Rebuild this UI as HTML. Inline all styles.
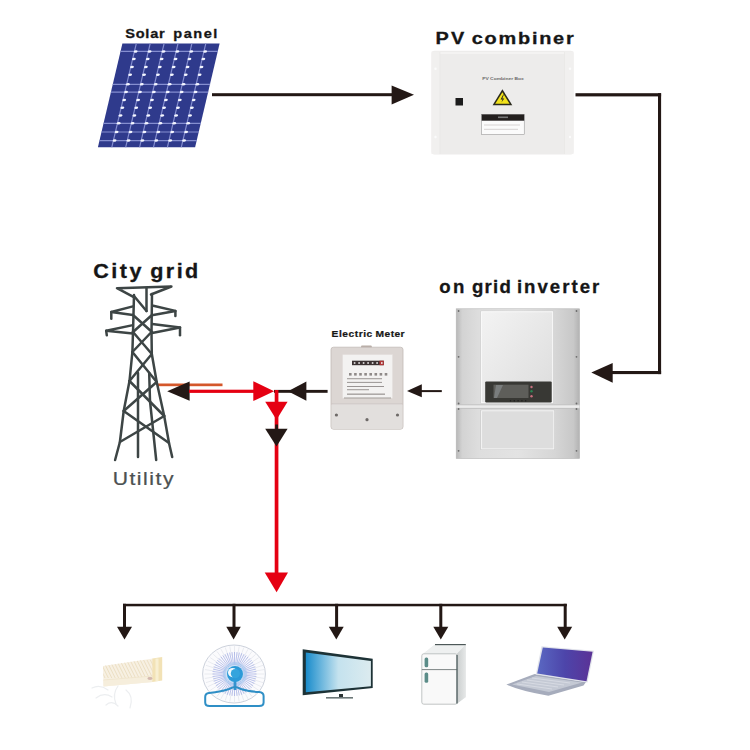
<!DOCTYPE html>
<html><head><meta charset="utf-8">
<style>
html,body{margin:0;padding:0;background:#fff;}
body{width:750px;height:750px;overflow:hidden;position:relative;font-family:"Liberation Sans",sans-serif;}
svg{position:absolute;left:0;top:0;display:block;}
.t{font-family:"Liberation Sans",sans-serif;font-weight:bold;fill:#1b1b1b;}
</style></head>
<body>
<svg width="750" height="750" viewBox="0 0 750 750">
<defs>
  <linearGradient id="tvg" x1="0" y1="0" x2="1" y2="0">
    <stop offset="0" stop-color="#1a8ccb"/>
    <stop offset="0.25" stop-color="#6fb8de"/>
    <stop offset="0.5" stop-color="#c4e2ee"/>
    <stop offset="1" stop-color="#dcebef"/>
  </linearGradient>
  <linearGradient id="lpg" x1="0" y1="0" x2="1" y2="0">
    <stop offset="0" stop-color="#5a68c2"/>
    <stop offset="0.5" stop-color="#4d45aa"/>
    <stop offset="1" stop-color="#5b3296"/>
  </linearGradient>
  <linearGradient id="invg" x1="0" y1="0" x2="1" y2="0">
    <stop offset="0" stop-color="#b8b8b8"/>
    <stop offset="0.05" stop-color="#d3d3d3"/>
    <stop offset="0.19" stop-color="#dedede"/>
    <stop offset="0.5" stop-color="#e3e3e3"/>
    <stop offset="0.8" stop-color="#d6d6d6"/>
    <stop offset="0.95" stop-color="#c8c8c8"/>
    <stop offset="1" stop-color="#b2b2b2"/>
  </linearGradient>
  <linearGradient id="invp" x1="0" y1="0" x2="1" y2="1">
    <stop offset="0" stop-color="#f3f3f3"/>
    <stop offset="1" stop-color="#dcdcdc"/>
  </linearGradient>
  <linearGradient id="frs" x1="0" y1="0" x2="1" y2="0">
    <stop offset="0" stop-color="#c9cdcd"/>
    <stop offset="1" stop-color="#e6e8e8"/>
  </linearGradient>
</defs>

<!-- ===== TEXT LABELS ===== -->
<text transform="translate(125.20,37.6) scale(1.12,1)" font-size="13" font-weight="bold" font-family="Liberation Sans" fill="#161616" stroke="#161616" stroke-width="0.3" textLength="35.28" lengthAdjust="spacing">Solar</text>
<text transform="translate(173.34,37.6) scale(1.12,1)" font-size="13" font-weight="bold" font-family="Liberation Sans" fill="#161616" stroke="#161616" stroke-width="0.3" textLength="39.32" lengthAdjust="spacing">panel</text>
<text transform="translate(435.48,44.2) scale(1.2,1)" font-size="16.6" font-weight="bold" font-family="Liberation Sans" fill="#161616" stroke="#161616" stroke-width="0.3" textLength="23.91" lengthAdjust="spacing">PV</text>
<text transform="translate(471.78,44.2) scale(1.2,1)" font-size="16.6" font-weight="bold" font-family="Liberation Sans" fill="#161616" stroke="#161616" stroke-width="0.3" textLength="84.91" lengthAdjust="spacing">combiner</text>
<text transform="translate(439.26,292.7) scale(1.0,1)" font-size="18.6" font-weight="bold" font-family="Liberation Sans" fill="#161616" stroke="#161616" stroke-width="0.3" textLength="25.06" lengthAdjust="spacing">on</text>
<text transform="translate(471.98,292.7) scale(1.0,1)" font-size="18.6" font-weight="bold" font-family="Liberation Sans" fill="#161616" stroke="#161616" stroke-width="0.3" textLength="38.84" lengthAdjust="spacing">grid</text>
<text transform="translate(516.90,292.7) scale(1.0,1)" font-size="18.6" font-weight="bold" font-family="Liberation Sans" fill="#161616" stroke="#161616" stroke-width="0.3" textLength="82.40" lengthAdjust="spacing">inverter</text>
<text transform="translate(93.14,278) scale(1.1,1)" font-size="19.6" font-weight="bold" font-family="Liberation Sans" fill="#161616" stroke="#161616" stroke-width="0.3" textLength="44.03" lengthAdjust="spacing">City</text>
<text transform="translate(150.22,278) scale(1.1,1)" font-size="19.6" font-weight="bold" font-family="Liberation Sans" fill="#161616" stroke="#161616" stroke-width="0.3" textLength="43.65" lengthAdjust="spacing">grid</text>
<text transform="translate(331.59,336.5) scale(1.18,1)" font-size="8.7" font-weight="bold" font-family="Liberation Sans" fill="#161616" stroke="#161616" stroke-width="0.2" textLength="34.42" lengthAdjust="spacing">Electric</text>
<text transform="translate(375.59,336.5) scale(1.18,1)" font-size="8.7" font-weight="bold" font-family="Liberation Sans" fill="#161616" stroke="#161616" stroke-width="0.2" textLength="24.61" lengthAdjust="spacing">Meter</text>
<text transform="translate(112.64,485.3) scale(1.2,1)" font-size="17.6" font-family="Liberation Sans" fill="#4c5151" stroke="#4c5151" stroke-width="0.25" textLength="50.77" lengthAdjust="spacing">Utility</text>

<!-- ===== SOLAR PANEL ===== -->
<g transform="translate(122.4,43.6) skewX(-13.3)">
  <rect x="0" y="0" width="97.2" height="103.6" fill="#2f3a8c"/>
  <g stroke="#858ed0" stroke-width="1.2">
    <line x1="13.9" y1="0" x2="13.9" y2="103.6"/>
    <line x1="27.8" y1="0" x2="27.8" y2="103.6"/>
    <line x1="41.7" y1="0" x2="41.7" y2="103.6"/>
    <line x1="55.6" y1="0" x2="55.6" y2="103.6"/>
    <line x1="69.5" y1="0" x2="69.5" y2="103.6"/>
    <line x1="83.4" y1="0" x2="83.4" y2="103.6"/>
    <line x1="0" y1="7.8" x2="97.4" y2="7.8"/>
    <line x1="0" y1="40.7" x2="97.4" y2="40.7"/>
    <line x1="0" y1="48.5" x2="97.4" y2="48.5"/>
    <line x1="0" y1="79.7" x2="97.4" y2="79.7"/>
    <line x1="0" y1="88.4" x2="97.4" y2="88.4"/>
    <line x1="0" y1="97" x2="97.4" y2="97"/>
  </g>
  <g fill="#f4f6ff"><ellipse cx="15.1" cy="7.8" rx="1.9" ry="1.25"/><ellipse cx="29.0" cy="7.8" rx="1.9" ry="1.25"/><ellipse cx="42.900000000000006" cy="7.8" rx="1.9" ry="1.25"/><ellipse cx="56.800000000000004" cy="7.8" rx="1.9" ry="1.25"/><ellipse cx="70.7" cy="7.8" rx="1.9" ry="1.25"/><ellipse cx="84.60000000000001" cy="7.8" rx="1.9" ry="1.25"/><ellipse cx="15.1" cy="15.5" rx="1.9" ry="1.25"/><ellipse cx="29.0" cy="15.5" rx="1.9" ry="1.25"/><ellipse cx="42.900000000000006" cy="15.5" rx="1.9" ry="1.25"/><ellipse cx="56.800000000000004" cy="15.5" rx="1.9" ry="1.25"/><ellipse cx="70.7" cy="15.5" rx="1.9" ry="1.25"/><ellipse cx="84.60000000000001" cy="15.5" rx="1.9" ry="1.25"/><ellipse cx="15.1" cy="23.4" rx="1.9" ry="1.25"/><ellipse cx="29.0" cy="23.4" rx="1.9" ry="1.25"/><ellipse cx="42.900000000000006" cy="23.4" rx="1.9" ry="1.25"/><ellipse cx="56.800000000000004" cy="23.4" rx="1.9" ry="1.25"/><ellipse cx="70.7" cy="23.4" rx="1.9" ry="1.25"/><ellipse cx="84.60000000000001" cy="23.4" rx="1.9" ry="1.25"/><ellipse cx="15.1" cy="31.2" rx="1.9" ry="1.25"/><ellipse cx="29.0" cy="31.2" rx="1.9" ry="1.25"/><ellipse cx="42.900000000000006" cy="31.2" rx="1.9" ry="1.25"/><ellipse cx="56.800000000000004" cy="31.2" rx="1.9" ry="1.25"/><ellipse cx="70.7" cy="31.2" rx="1.9" ry="1.25"/><ellipse cx="84.60000000000001" cy="31.2" rx="1.9" ry="1.25"/><ellipse cx="15.1" cy="40.7" rx="1.9" ry="1.25"/><ellipse cx="29.0" cy="40.7" rx="1.9" ry="1.25"/><ellipse cx="42.900000000000006" cy="40.7" rx="1.9" ry="1.25"/><ellipse cx="56.800000000000004" cy="40.7" rx="1.9" ry="1.25"/><ellipse cx="70.7" cy="40.7" rx="1.9" ry="1.25"/><ellipse cx="84.60000000000001" cy="40.7" rx="1.9" ry="1.25"/><ellipse cx="15.1" cy="48.5" rx="1.9" ry="1.25"/><ellipse cx="29.0" cy="48.5" rx="1.9" ry="1.25"/><ellipse cx="42.900000000000006" cy="48.5" rx="1.9" ry="1.25"/><ellipse cx="56.800000000000004" cy="48.5" rx="1.9" ry="1.25"/><ellipse cx="70.7" cy="48.5" rx="1.9" ry="1.25"/><ellipse cx="84.60000000000001" cy="48.5" rx="1.9" ry="1.25"/><ellipse cx="15.1" cy="56.3" rx="1.9" ry="1.25"/><ellipse cx="29.0" cy="56.3" rx="1.9" ry="1.25"/><ellipse cx="42.900000000000006" cy="56.3" rx="1.9" ry="1.25"/><ellipse cx="56.800000000000004" cy="56.3" rx="1.9" ry="1.25"/><ellipse cx="70.7" cy="56.3" rx="1.9" ry="1.25"/><ellipse cx="84.60000000000001" cy="56.3" rx="1.9" ry="1.25"/><ellipse cx="15.1" cy="64.1" rx="1.9" ry="1.25"/><ellipse cx="29.0" cy="64.1" rx="1.9" ry="1.25"/><ellipse cx="42.900000000000006" cy="64.1" rx="1.9" ry="1.25"/><ellipse cx="56.800000000000004" cy="64.1" rx="1.9" ry="1.25"/><ellipse cx="70.7" cy="64.1" rx="1.9" ry="1.25"/><ellipse cx="84.60000000000001" cy="64.1" rx="1.9" ry="1.25"/><ellipse cx="15.1" cy="71.9" rx="1.9" ry="1.25"/><ellipse cx="29.0" cy="71.9" rx="1.9" ry="1.25"/><ellipse cx="42.900000000000006" cy="71.9" rx="1.9" ry="1.25"/><ellipse cx="56.800000000000004" cy="71.9" rx="1.9" ry="1.25"/><ellipse cx="70.7" cy="71.9" rx="1.9" ry="1.25"/><ellipse cx="84.60000000000001" cy="71.9" rx="1.9" ry="1.25"/><ellipse cx="15.1" cy="79.7" rx="1.9" ry="1.25"/><ellipse cx="29.0" cy="79.7" rx="1.9" ry="1.25"/><ellipse cx="42.900000000000006" cy="79.7" rx="1.9" ry="1.25"/><ellipse cx="56.800000000000004" cy="79.7" rx="1.9" ry="1.25"/><ellipse cx="70.7" cy="79.7" rx="1.9" ry="1.25"/><ellipse cx="84.60000000000001" cy="79.7" rx="1.9" ry="1.25"/><ellipse cx="15.1" cy="88.4" rx="1.9" ry="1.25"/><ellipse cx="29.0" cy="88.4" rx="1.9" ry="1.25"/><ellipse cx="42.900000000000006" cy="88.4" rx="1.9" ry="1.25"/><ellipse cx="56.800000000000004" cy="88.4" rx="1.9" ry="1.25"/><ellipse cx="70.7" cy="88.4" rx="1.9" ry="1.25"/><ellipse cx="84.60000000000001" cy="88.4" rx="1.9" ry="1.25"/><ellipse cx="15.1" cy="97" rx="1.9" ry="1.25"/><ellipse cx="29.0" cy="97" rx="1.9" ry="1.25"/><ellipse cx="42.900000000000006" cy="97" rx="1.9" ry="1.25"/><ellipse cx="56.800000000000004" cy="97" rx="1.9" ry="1.25"/><ellipse cx="70.7" cy="97" rx="1.9" ry="1.25"/><ellipse cx="84.60000000000001" cy="97" rx="1.9" ry="1.25"/></g>
</g>

<!-- ===== PV COMBINER BOX ===== -->
<rect x="431.5" y="50.7" width="142.1" height="103.7" rx="3" fill="#edeceb"/>
<rect x="433" y="52" width="139" height="2" fill="#f4f3f2"/>
<rect x="431.5" y="51.5" width="8.5" height="102.5" fill="#f1f0ef"/>
<rect x="564.5" y="51.5" width="9" height="102.5" fill="#f1f0ef"/>
<line x1="440" y1="52" x2="440" y2="154" stroke="#e6e5e3" stroke-width="0.6"/>
<line x1="564.5" y1="52" x2="564.5" y2="154" stroke="#e6e5e3" stroke-width="0.6"/>
<g fill="#fbfbfb"><circle cx="435.5" cy="68.8" r="1.2"/><circle cx="570" cy="68.8" r="1.2"/><circle cx="435.5" cy="137" r="1.2"/><circle cx="570" cy="137" r="1.2"/></g>
<rect x="455.5" y="98" width="7.5" height="7.5" fill="#1c1c1c"/>
<text x="503" y="79.6" font-size="4.3" font-weight="bold" font-family="Liberation Sans" fill="#6a6a6a" textLength="41.6" lengthAdjust="spacingAndGlyphs" text-anchor="middle">PV Combiner Box</text>
<polygon points="502.4,89.3 512.3,105.2 492.6,105.2" fill="#2b2a1c"/>
<polygon points="502.4,92.2 509.6,103.8 495.2,103.8" fill="#f2e21a"/>
<polygon points="503.2,94.5 500.6,99.5 502.6,99.4 501.4,102.6 504.3,98.4 502.3,98.5 503.9,94.5" fill="#222"/>
<rect x="481.7" y="114.4" width="42.5" height="20" fill="#fbfbfb" stroke="#8a8a8a" stroke-width="0.5"/>
<rect x="481.7" y="114.4" width="42.5" height="6.3" fill="#231f1e"/>
<rect x="498" y="116.5" width="10" height="1.6" fill="#777"/>
<g stroke="#b0a8a8" stroke-width="0.5"><line x1="484" y1="125" x2="520" y2="125"/><line x1="484" y1="129.3" x2="518" y2="129.3"/></g>

<!-- ===== INVERTER ===== -->
<rect x="456.2" y="308.8" width="123.4" height="149.7" fill="url(#invg)" stroke="#b5b5b5" stroke-width="0.6"/>
<rect x="480.8" y="311" width="72.7" height="92.5" fill="url(#invp)" stroke="#c9c9c9" stroke-width="0.6"/>
<rect x="481.6" y="311.8" width="71.1" height="90.9" fill="none" stroke="#fbfbfb" stroke-width="0.9"/>
<rect x="456.2" y="404.6" width="123.4" height="4" fill="#ececec"/>
<line x1="456.2" y1="404.8" x2="579.6" y2="404.8" stroke="#b3b3b3" stroke-width="0.7"/>
<line x1="456.2" y1="408.4" x2="579.6" y2="408.4" stroke="#b3b3b3" stroke-width="0.7"/>
<rect x="480.8" y="410" width="73.8" height="39.7" fill="#dddddd" stroke="#c6c6c6" stroke-width="0.6"/>
<rect x="481.6" y="410.8" width="72.2" height="38.1" fill="none" stroke="#f6f6f6" stroke-width="0.9"/>
<rect x="485.2" y="381.4" width="66.5" height="21" rx="1.2" fill="#383834"/>
<rect x="493.5" y="384.7" width="35" height="13.3" fill="#5e5e5a"/>
<polygon points="496,385 503,385 497,398 494,398" fill="#7a7d7d"/>
<g><circle cx="531.5" cy="387" r="1.2" fill="#c8707f"/><circle cx="531.5" cy="391.3" r="1.2" fill="#2b8553"/><circle cx="531.5" cy="396.2" r="1.2" fill="#c8707f"/></g>
<g fill="#1d1d1d"><circle cx="510.5" cy="400.8" r="0.7"/><circle cx="514.3" cy="400.8" r="0.7"/><circle cx="518.1" cy="400.8" r="0.7"/><circle cx="521.9" cy="400.8" r="0.7"/><circle cx="525.7" cy="400.8" r="0.7"/></g>
<g fill="#6b6b6b"><circle cx="458.6" cy="311" r="0.9"/><circle cx="576.5" cy="311" r="0.9"/><circle cx="458.6" cy="356.8" r="0.9"/><circle cx="576.5" cy="356.8" r="0.9"/><circle cx="458.6" cy="403.5" r="0.9"/><circle cx="576.5" cy="403.5" r="0.9"/><circle cx="458.6" cy="409" r="0.9"/><circle cx="576.5" cy="409" r="0.9"/><circle cx="458.6" cy="450.8" r="0.9"/><circle cx="576.5" cy="450.8" r="0.9"/></g>

<!-- ===== ELECTRIC METER ===== -->
<rect x="361" y="345.4" width="10.8" height="3" rx="1" fill="#b7aba4"/>
<rect x="331" y="347.2" width="72" height="82" rx="2.5" fill="#dcd6d3" stroke="#c2bab6" stroke-width="0.8"/>
<rect x="331.5" y="403.5" width="71" height="25.5" rx="2" fill="#e2dfdd"/>
<line x1="331.5" y1="403.8" x2="402.5" y2="403.8" stroke="#c9c3c0" stroke-width="0.8"/>
<rect x="342.4" y="354.4" width="50.3" height="43.8" fill="#f3f2f1" stroke="#ddd8d5" stroke-width="0.5"/>
<rect x="352" y="360.7" width="31.8" height="4.5" fill="#3b3232"/>
<rect x="379.5" y="360.7" width="4.3" height="4.5" fill="#b03535"/>
<g fill="#f0eeee"><rect x="353.8" y="362.2" width="1.6" height="1.6"/><rect x="358.3" y="362.2" width="1.6" height="1.6"/><rect x="362.8" y="362.2" width="1.6" height="1.6"/><rect x="367.3" y="362.2" width="1.6" height="1.6"/><rect x="371.8" y="362.2" width="1.6" height="1.6"/><rect x="376.3" y="362.2" width="1.6" height="1.6"/><rect x="381" y="362.2" width="1.6" height="1.6"/></g>
<g fill="#8f8a88">
<rect x="349.0" y="373" width="2.6" height="2.6"/><rect x="354.1" y="373" width="2.6" height="2.6"/><rect x="359.2" y="373" width="2.6" height="2.6"/><rect x="364.3" y="373" width="2.6" height="2.6"/><rect x="369.4" y="373" width="2.6" height="2.6"/><rect x="374.5" y="373" width="2.6" height="2.6"/><rect x="379.6" y="373" width="2.6" height="2.6"/><rect x="384.7" y="373" width="2.6" height="2.6"/>
<rect x="347" y="378.3" width="35" height="0.9"/>
<rect x="347" y="381.9" width="35" height="0.9"/>
<rect x="347" y="386.1" width="37" height="0.9"/>
<rect x="347" y="389.3" width="22" height="0.9"/>
<rect x="347" y="393.6" width="38" height="1.1"/>
<rect x="344" y="397.6" width="47" height="0.8"/>
</g>
<g fill="#6e6a68"><circle cx="336.4" cy="415" r="1.6"/><circle cx="397.5" cy="415" r="1.6"/><circle cx="367" cy="419.7" r="1.6"/></g>

<!-- ===== ARROWS / LINES ===== -->
<rect x="158" y="383.5" width="64.5" height="2.7" fill="#d4572a"/>

<g fill="#231815" stroke="none">
  <!-- solar -> combiner -->
  <rect x="212" y="93.2" width="181" height="3"/>
  <polygon points="391.6,85.4 414,94.8 391.6,104.6"/>
  <!-- combiner -> inverter -->
  <rect x="575.5" y="93.2" width="85.6" height="3.2"/>
  <rect x="658" y="93.2" width="3.1" height="280.9"/>
  <rect x="611" y="371" width="50.1" height="3.1"/>
  <polygon points="612.7,363 591.3,372.5 612.7,382.7"/>
  <!-- inverter -> meter -->
  <rect x="420" y="390.1" width="21.8" height="2"/>
  <polygon points="421.8,384.2 407,391 421.8,397.2"/>
  <!-- meter -> junction -->
  <rect x="274" y="389.9" width="53.6" height="2.9"/>
  <polygon points="306.4,381.6 288,391.2 306.4,400.8"/>
  <!-- to grid -->
  <polygon points="189.6,381.4 167.2,391.2 189.6,400.8"/>
  <!-- black down arrow -->
  <!-- bottom bus -->
  <rect x="123" y="603.8" width="443.8" height="2.5"/>
  <rect x="123" y="603.8" width="3" height="24"/>
  <polygon points="117,626.7 132,626.7 124.5,639.5"/>
  <rect x="232.5" y="603.8" width="3" height="24"/>
  <polygon points="226.3,626.7 240.8,626.7 233.6,639.5"/>
  <rect x="335.1" y="603.8" width="3" height="24"/>
  <polygon points="328.8,626.7 343.7,626.7 336.3,639.5"/>
  <rect x="439.3" y="603.8" width="3" height="24"/>
  <polygon points="433.3,626.7 448.3,626.7 440.8,639.5"/>
  <rect x="563.7" y="603.8" width="3" height="24"/>
  <polygon points="557.2,626.7 572.2,626.7 564.7,639.5"/>
</g>
<g fill="#e50012">
  <rect x="189" y="389.7" width="65" height="3.2"/>
  <polygon points="253.3,381.2 274.1,391.3 253.3,401"/>
  <rect x="274.7" y="390" width="3.7" height="183"/>
  <polygon points="265.2,401.8 287.6,401.8 276.5,419.8"/>
  <polygon points="264.7,572.5 288,572.5 276.6,592.3"/>
</g>
<g fill="#231815">
  <rect x="275.2" y="424.5" width="2.8" height="5"/>
  <polygon points="265.2,428.8 287.6,428.8 276.5,446.5"/>
</g>

<!-- ===== TOWER ===== -->
<g stroke="#3d4545" stroke-width="2.5" fill="none" stroke-linecap="round" stroke-linejoin="round">
  <polyline points="132.9,296.7 117,288.2 171.4,286.5 151,294.5"/>
  <line x1="134" y1="295" x2="133" y2="333"/>
  <line x1="152" y1="294" x2="151.5" y2="333"/>
  <line x1="146.5" y1="288" x2="146.5" y2="311"/>
  <line x1="134" y1="296" x2="146.5" y2="311"/>
  <polyline points="132.9,306.4 111.3,312 132.9,314.9"/>
  <line x1="111.3" y1="312" x2="111.3" y2="318.8"/>
  <polyline points="153.3,305.8 175.4,310.9 153.3,314.9"/>
  <line x1="175.4" y1="310.9" x2="175.4" y2="316"/>
  <polyline points="132.9,325.1 106.2,330.8 132.9,333.6"/>
  <line x1="106.2" y1="330.8" x2="106.8" y2="335.3"/>
  <polyline points="152.2,324 180,327.4 152.2,333"/>
  <line x1="180" y1="327.4" x2="180" y2="335.3"/>
  <line x1="133" y1="315" x2="152" y2="332"/>
  <line x1="152" y1="315" x2="133" y2="332"/>
  <!-- legs -->
  <polyline points="133,332 132.4,352 129.5,381 123.7,411 119.9,442 115.1,460"/>
  <polyline points="151.5,332 151.8,354 156.7,382 164.2,416 169,443 172.2,457"/>
  <line x1="138" y1="373" x2="138" y2="457"/>
  <polyline points="149.2,373 150,401 156.2,460"/>
  <line x1="133" y1="332" x2="151.8" y2="354"/>
  <line x1="151.5" y1="332" x2="132.4" y2="352"/>
  <line x1="132.4" y1="352" x2="156.7" y2="382"/>
  <line x1="151.8" y1="354" x2="129.5" y2="381"/>
  <line x1="129.5" y1="381" x2="164.2" y2="416"/>
  <line x1="156.7" y1="382" x2="123.7" y2="411"/>
  <line x1="123.7" y1="411" x2="169" y2="443"/>
  <line x1="164.2" y1="416" x2="119.9" y2="442"/>
</g>

<!-- ===== APPLIANCES ===== -->
<!-- AC -->
<clipPath id="acc"><polygon points="103,666 153,658.5 153,682 103.5,686.4"/></clipPath>
<polygon points="103,666 153,658.5 153,682 103.5,686.4" fill="#f7f0e2"/>
<g clip-path="url(#acc)" stroke="#eadcc0" stroke-width="0.9">
<line x1="75.6" y1="660" x2="84.6" y2="678"/><line x1="79.0" y1="660" x2="88.0" y2="678"/><line x1="82.4" y1="660" x2="91.4" y2="678"/><line x1="85.8" y1="660" x2="94.8" y2="678"/><line x1="89.2" y1="660" x2="98.2" y2="678"/><line x1="92.6" y1="660" x2="101.6" y2="678"/><line x1="96.0" y1="660" x2="105.0" y2="678"/><line x1="99.4" y1="660" x2="108.4" y2="678"/><line x1="102.8" y1="660" x2="111.8" y2="678"/><line x1="106.2" y1="660" x2="115.2" y2="678"/><line x1="109.6" y1="660" x2="118.6" y2="678"/><line x1="113.0" y1="660" x2="122.0" y2="678"/><line x1="116.4" y1="660" x2="125.4" y2="678"/><line x1="119.8" y1="660" x2="128.8" y2="678"/><line x1="123.2" y1="660" x2="132.2" y2="678"/><line x1="126.6" y1="660" x2="135.6" y2="678"/><line x1="130.0" y1="660" x2="139.0" y2="678"/><line x1="133.4" y1="660" x2="142.4" y2="678"/><line x1="136.8" y1="660" x2="145.8" y2="678"/><line x1="140.2" y1="660" x2="149.2" y2="678"/><line x1="143.6" y1="660" x2="152.6" y2="678"/><line x1="147.0" y1="660" x2="156.0" y2="678"/><line x1="150.4" y1="660" x2="159.4" y2="678"/><line x1="153.8" y1="660" x2="162.8" y2="678"/><line x1="157.2" y1="660" x2="166.2" y2="678"/><line x1="160.6" y1="660" x2="169.6" y2="678"/><line x1="164.0" y1="660" x2="173.0" y2="678"/><line x1="167.39999999999998" y1="660" x2="176.39999999999998" y2="678"/><line x1="170.8" y1="660" x2="179.8" y2="678"/><line x1="174.2" y1="660" x2="183.2" y2="678"/></g>
<polygon points="103.3,680 153,676 153,682 103.5,686.4" fill="#f6eedc"/>
<line x1="103.3" y1="680" x2="153" y2="676" stroke="#eee2c8" stroke-width="0.7"/>
<polygon points="152.4,658.4 162.2,657 162.2,680.6 152.4,682" fill="#f2e2b6"/>
<rect x="155.5" y="658.5" width="3" height="22.5" fill="#f8efd2"/>
<ellipse cx="150" cy="678.5" rx="2.6" ry="1.4" fill="#d3b8ae"/>
<g fill="none" stroke="#eceef0" stroke-width="1.2" stroke-linecap="round">
<path d="M92,688 Q100,684 108,690"/>
<path d="M96,698 Q104,692 112,697"/>
<path d="M118,686 Q112,694 116,704"/>
<path d="M126,690 Q134,696 130,708"/>
<path d="M106,705 Q112,700 118,706"/>
</g>
<!-- Fan -->
<ellipse cx="234" cy="674" rx="31.4" ry="29" fill="#fbfbfd" stroke="#cdd2dc" stroke-width="1"/>
<g stroke="#d6dae3" stroke-width="0.5"><line x1="254.5" y1="674.0" x2="264.5" y2="674.0"/><line x1="254.3" y1="676.9" x2="264.1" y2="678.4"/><line x1="253.5" y1="679.7" x2="263.0" y2="682.6"/><line x1="252.3" y1="682.4" x2="261.2" y2="686.7"/><line x1="250.7" y1="684.9" x2="258.8" y2="690.4"/><line x1="248.6" y1="687.2" x2="255.7" y2="693.7"/><line x1="246.3" y1="689.0" x2="252.1" y2="696.6"/><line x1="243.6" y1="690.6" x2="248.1" y2="698.9"/><line x1="240.7" y1="691.7" x2="243.8" y2="700.5"/><line x1="237.6" y1="692.4" x2="239.2" y2="701.6"/><line x1="234.5" y1="692.6" x2="234.5" y2="701.9"/><line x1="231.4" y1="692.4" x2="229.8" y2="701.6"/><line x1="228.3" y1="691.7" x2="225.2" y2="700.5"/><line x1="225.4" y1="690.6" x2="220.9" y2="698.9"/><line x1="222.7" y1="689.0" x2="216.9" y2="696.6"/><line x1="220.4" y1="687.2" x2="213.3" y2="693.7"/><line x1="218.3" y1="684.9" x2="210.2" y2="690.4"/><line x1="216.7" y1="682.4" x2="207.8" y2="686.7"/><line x1="215.5" y1="679.7" x2="206.0" y2="682.6"/><line x1="214.7" y1="676.9" x2="204.9" y2="678.4"/><line x1="214.5" y1="674.0" x2="204.5" y2="674.0"/><line x1="214.7" y1="671.1" x2="204.9" y2="669.6"/><line x1="215.5" y1="668.3" x2="206.0" y2="665.4"/><line x1="216.7" y1="665.6" x2="207.8" y2="661.3"/><line x1="218.3" y1="663.1" x2="210.2" y2="657.6"/><line x1="220.4" y1="660.8" x2="213.3" y2="654.3"/><line x1="222.7" y1="659.0" x2="216.9" y2="651.4"/><line x1="225.4" y1="657.4" x2="220.9" y2="649.1"/><line x1="228.3" y1="656.3" x2="225.2" y2="647.5"/><line x1="231.4" y1="655.6" x2="229.8" y2="646.4"/><line x1="234.5" y1="655.4" x2="234.5" y2="646.1"/><line x1="237.6" y1="655.6" x2="239.2" y2="646.4"/><line x1="240.7" y1="656.3" x2="243.8" y2="647.5"/><line x1="243.6" y1="657.4" x2="248.1" y2="649.1"/><line x1="246.3" y1="659.0" x2="252.1" y2="651.4"/><line x1="248.6" y1="660.8" x2="255.7" y2="654.3"/><line x1="250.7" y1="663.1" x2="258.8" y2="657.6"/><line x1="252.3" y1="665.6" x2="261.2" y2="661.3"/><line x1="253.5" y1="668.3" x2="263.0" y2="665.4"/><line x1="254.3" y1="671.1" x2="264.1" y2="669.6"/></g>
<g stroke="#8f9ce0" stroke-width="0.7" opacity="0.85"><line x1="243.5" y1="674.0" x2="256.5" y2="674.0"/><line x1="243.4" y1="675.0" x2="256.4" y2="676.5"/><line x1="243.3" y1="676.0" x2="255.9" y2="678.9"/><line x1="243.0" y1="677.0" x2="255.3" y2="681.3"/><line x1="242.6" y1="677.9" x2="254.3" y2="683.5"/><line x1="242.1" y1="678.8" x2="253.1" y2="685.7"/><line x1="241.5" y1="679.6" x2="251.7" y2="687.7"/><line x1="240.9" y1="680.4" x2="250.1" y2="689.6"/><line x1="240.1" y1="681.0" x2="248.2" y2="691.2"/><line x1="239.3" y1="681.6" x2="246.2" y2="692.6"/><line x1="238.4" y1="682.1" x2="244.0" y2="693.8"/><line x1="237.5" y1="682.5" x2="241.8" y2="694.8"/><line x1="236.5" y1="682.8" x2="239.4" y2="695.4"/><line x1="235.5" y1="682.9" x2="237.0" y2="695.9"/><line x1="234.5" y1="683.0" x2="234.5" y2="696.0"/><line x1="233.5" y1="682.9" x2="232.0" y2="695.9"/><line x1="232.5" y1="682.8" x2="229.6" y2="695.4"/><line x1="231.5" y1="682.5" x2="227.2" y2="694.8"/><line x1="230.6" y1="682.1" x2="225.0" y2="693.8"/><line x1="229.7" y1="681.6" x2="222.8" y2="692.6"/><line x1="228.9" y1="681.0" x2="220.8" y2="691.2"/><line x1="228.1" y1="680.4" x2="218.9" y2="689.6"/><line x1="227.5" y1="679.6" x2="217.3" y2="687.7"/><line x1="226.9" y1="678.8" x2="215.9" y2="685.7"/><line x1="226.4" y1="677.9" x2="214.7" y2="683.5"/><line x1="226.0" y1="677.0" x2="213.7" y2="681.3"/><line x1="225.7" y1="676.0" x2="213.1" y2="678.9"/><line x1="225.6" y1="675.0" x2="212.6" y2="676.5"/><line x1="225.5" y1="674.0" x2="212.5" y2="674.0"/><line x1="225.6" y1="673.0" x2="212.6" y2="671.5"/><line x1="225.7" y1="672.0" x2="213.1" y2="669.1"/><line x1="226.0" y1="671.0" x2="213.7" y2="666.7"/><line x1="226.4" y1="670.1" x2="214.7" y2="664.5"/><line x1="226.9" y1="669.2" x2="215.9" y2="662.3"/><line x1="227.5" y1="668.4" x2="217.3" y2="660.3"/><line x1="228.1" y1="667.6" x2="218.9" y2="658.4"/><line x1="228.9" y1="667.0" x2="220.8" y2="656.8"/><line x1="229.7" y1="666.4" x2="222.8" y2="655.4"/><line x1="230.6" y1="665.9" x2="225.0" y2="654.2"/><line x1="231.5" y1="665.5" x2="227.2" y2="653.2"/><line x1="232.5" y1="665.2" x2="229.6" y2="652.6"/><line x1="233.5" y1="665.1" x2="232.0" y2="652.1"/><line x1="234.5" y1="665.0" x2="234.5" y2="652.0"/><line x1="235.5" y1="665.1" x2="237.0" y2="652.1"/><line x1="236.5" y1="665.2" x2="239.4" y2="652.6"/><line x1="237.5" y1="665.5" x2="241.8" y2="653.2"/><line x1="238.4" y1="665.9" x2="244.0" y2="654.2"/><line x1="239.3" y1="666.4" x2="246.2" y2="655.4"/><line x1="240.1" y1="667.0" x2="248.2" y2="656.8"/><line x1="240.9" y1="667.6" x2="250.1" y2="658.4"/><line x1="241.5" y1="668.4" x2="251.7" y2="660.3"/><line x1="242.1" y1="669.2" x2="253.1" y2="662.3"/><line x1="242.6" y1="670.1" x2="254.3" y2="664.5"/><line x1="243.0" y1="671.0" x2="255.3" y2="666.7"/><line x1="243.3" y1="672.0" x2="255.9" y2="669.1"/><line x1="243.4" y1="673.0" x2="256.4" y2="671.5"/></g>
<circle cx="235" cy="674" r="12" fill="#9fc8ef" opacity="0.5"/>
<rect x="233.6" y="680" width="2.8" height="10" fill="#3593cf"/>
<circle cx="235" cy="674" r="8" fill="#2c9ad8"/>
<circle cx="232.6" cy="672.6" r="4.6" fill="#f2f9fd"/><circle cx="235.4" cy="673.6" r="4.6" fill="#34a4dd"/>
<path d="M205.2,697 Q205.2,693.5 209,693 Q222,691.5 229,689 Q233,687 235,687 Q237,687 241,689 Q248,691.5 259,692 Q263.6,692.5 263.6,696 L263.6,702.5 Q263.6,706 259,706 L209.5,706 Q205.2,706 205.2,702.5 Z" fill="none" stroke="#2f8fc6" stroke-width="2"/>
<!-- TV -->
<polygon points="302.7,649.3 372.7,658.7 372.7,688 302.7,695.3" fill="#1d3236"/>
<polygon points="305.8,652.6 370.9,661 370.9,686.2 305.8,692.2" fill="url(#tvg)"/>
<rect x="339" y="694" width="4" height="3" fill="#2c3434"/>
<rect x="326" y="697" width="27" height="1.6" fill="#6c7777"/>
<!-- Fridge -->
<polygon points="423,654 435,644.4 465.8,644.4 465.8,697 456.5,704 456.5,654" fill="#e9ebeb"/>
<polygon points="456.5,654 465.8,644.4 465.8,697 456.5,704" fill="url(#frs)"/>
<polygon points="423,654 435,644.4 465.8,644.4 456.5,654" fill="#eef0f0"/>
<line x1="435" y1="644.6" x2="465.8" y2="644.6" stroke="#4d5858" stroke-width="1.2"/>
<rect x="421.8" y="653.8" width="35.4" height="50.4" rx="2" fill="#f9f9f9" stroke="#a9aeae" stroke-width="0.7"/>
<line x1="421.8" y1="669.6" x2="457.2" y2="669.6" stroke="#7d8585" stroke-width="1"/>
<line x1="457" y1="655" x2="457" y2="703.5" stroke="#4f5f60" stroke-width="1.3"/>
<rect x="424.6" y="657.6" width="3.6" height="9.6" rx="1.5" fill="#5b8c88"/>
<rect x="424.6" y="672.6" width="3.6" height="10.2" rx="1.5" fill="#5b8c88"/>
<!-- Laptop -->
<path d="M534.6,674 L506.4,684.6 Q520,691 548.4,695.8 L583.5,685.5 L586,682 Z" fill="#a6acbc"/>
<path d="M512,684.5 L536,676 L582,682.5 L549,692 Z" fill="#c4c9d4"/>
<g stroke="#e9ebf0" stroke-width="0.5"><line x1="517" y1="684" x2="552" y2="689"/><line x1="522" y1="682" x2="558" y2="687"/><line x1="527" y1="680" x2="564" y2="685"/><line x1="532" y1="678" x2="570" y2="683"/></g>
<polygon points="541.5,646.3 594,650.8 587.5,682.6 535.8,674.6" fill="#e0e2ea"/>
<polygon points="542.8,647.6 592.6,651.8 586.5,681.2 537.2,673.6" fill="url(#lpg)"/>
</svg>
</body></html>
